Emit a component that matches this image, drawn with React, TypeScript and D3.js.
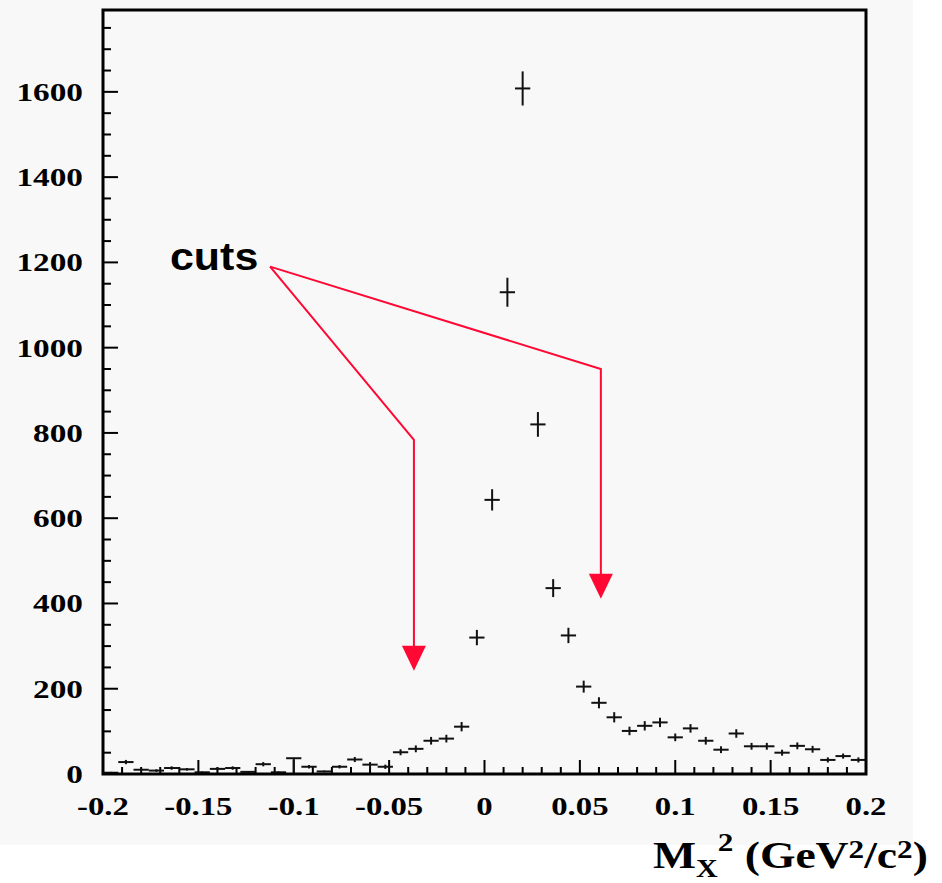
import React from "react";
import * as d3 from "d3";

// ---- Data ----
const binStart = -0.2;
const binWidth = 0.008;
const counts = [
  3, 28, 10, 8, 14, 11, 4, 12, 14, 5,
  23, 4, 37, 17, 6, 17, 34, 22, 17, 51,
  59, 78, 83, 111, 320, 643, 1130, 1608, 820, 436,
  325, 205, 167, 133, 101, 113, 121, 86, 107, 78,
  57, 95, 65, 65, 50, 66, 58, 33, 42, 33,
];
const errLow = [
  2, 5, 3, 3, 4, 3, 2, 3, 4, 2,
  5, 2, 37, 4, 2, 4, 6, 10, 5, 7,
  8, 9, 9, 11, 18, 25, 34, 40, 29, 21,
  18, 14, 13, 12, 10, 11, 11, 9, 10, 9,
  8, 10, 8, 8, 7, 8, 8, 6, 6, 6,
];
const errHigh = [
  2, 5, 3, 3, 4, 3, 2, 3, 4, 2,
  5, 2, 1, 4, 2, 4, 6, 6, 5, 7,
  8, 9, 9, 11, 18, 25, 34, 40, 29, 21,
  18, 14, 13, 12, 10, 11, 11, 9, 10, 9,
  8, 10, 8, 8, 7, 8, 8, 6, 6, 6,
];
const xTickValues = [-0.2, -0.15, -0.1, -0.05, 0, 0.05, 0.1, 0.15, 0.2];
const xTickLabels = ["-0.2", "-0.15", "-0.1", "-0.05", "0", "0.05", "0.1", "0.15", "0.2"];
const yTickValues = [0, 200, 400, 600, 800, 1000, 1200, 1400, 1600];
const yTickLabels = ["0", "200", "400", "600", "800", "1000", "1200", "1400", "1600"];
const xDomain = [-0.2, 0.2];
const yDomain = [0, 1792];
// annotation: "cuts" with arrows
const cutsLabel = "cuts";
const cutsOrigin = [-0.1124, 1190];
const cutX = [-0.037, 0.061];
const cutBendY = [784, 950];
const cutTipY = [242, 411];

// ---- Layout ----
const W = 942;
const H = 883;
const left = 103;
const right = 866;
const top = 10;
const bottom = 774;
const serif = "'Liberation Serif', 'Times New Roman', serif";
const sans = "'Liberation Sans', Arial, sans-serif";
const red = "#ff0833";

export default function App() {
  const x = d3.scaleLinear().domain(xDomain).range([left, right]);
  const y = d3.scaleLinear().domain(yDomain).range([bottom, top]);

  const xMinor = d3.range(-0.2, 0.2001, 0.01).map((v) => Math.round(v * 100) / 100);
  const yMinor = d3.range(0, 1792, 50);

  const ox = x(cutsOrigin[0]);
  const oy = y(cutsOrigin[1]);

  return (
    <svg
      width={W}
      height={H}
      style={{ position: "absolute", left: 0, top: 0, background: "#ffffff" }}
    >
      <rect x={0} y={0} width={913} height={845} fill="#f8f8f8" />

      {/* minor / major ticks on y axis */}
      {yMinor.map((v) => {
        const major = v % 200 === 0;
        return (
          <line
            key={"ym" + v}
            x1={left}
            x2={left + (major ? 15 : 8)}
            y1={y(v)}
            y2={y(v)}
            stroke="#000"
            strokeWidth={2}
          />
        );
      })}
      {/* ticks on x axis */}
      {xMinor.map((v) => {
        const major = Math.abs(Math.round(v * 100) % 5) === 0;
        return (
          <line
            key={"xm" + v}
            x1={x(v)}
            x2={x(v)}
            y1={bottom}
            y2={bottom - (major ? 14 : 7)}
            stroke="#000"
            strokeWidth={2}
          />
        );
      })}

      {/* data: histogram with error bars */}
      {counts.map((c, i) => {
        const lo = binStart + i * binWidth;
        const hi = lo + binWidth;
        const cx = x(lo + binWidth / 2);
        return (
          <g key={"b" + i} stroke="#111" strokeWidth={2}>
            <line x1={x(lo)} x2={x(hi)} y1={y(c)} y2={y(c)} />
            <line
              x1={cx}
              x2={cx}
              y1={y(Math.max(0, c - errLow[i]))}
              y2={y(c + errHigh[i])}
            />
          </g>
        );
      })}

      {/* frame */}
      <rect
        x={left}
        y={top}
        width={right - left}
        height={bottom - top}
        fill="none"
        stroke="#000"
        strokeWidth={3}
      />

      {/* y tick labels */}
      {yTickValues.map((v, i) => (
        <text
          key={"yl" + v}
          transform={`translate(83,${y(v) + 9}) scale(1.28,1)`}
          textAnchor="end"
          fontFamily={serif}
          fontWeight="bold"
          fontSize={26}
          fill="#000"
        >
          {yTickLabels[i]}
        </text>
      ))}
      {/* x tick labels */}
      {xTickValues.map((v, i) => (
        <text
          key={"xl" + v}
          transform={`translate(${x(v)},815) scale(1.26,1)`}
          textAnchor="middle"
          fontFamily={serif}
          fontWeight="bold"
          fontSize={26}
          fill="#000"
        >
          {xTickLabels[i]}
        </text>
      ))}

      {/* axis title */}
      <text
        transform="translate(653,868) scale(1.2,1)"
        fontFamily={serif}
        fontWeight="bold"
        fontSize={38}
        fill="#000"
      >
        <tspan>M</tspan>
        <tspan fontSize={25} dy={9}>X</tspan>
        <tspan fontSize={26} dy={-26}>2</tspan>
        <tspan dy={17}> (GeV</tspan>
        <tspan fontSize={26} dy={-10}>2</tspan>
        <tspan dy={10}>/c</tspan>
        <tspan fontSize={26} dy={-10}>2</tspan>
        <tspan dy={10}>)</tspan>
      </text>

      {/* cuts annotation */}
      <text
        transform="translate(170,270) scale(1.13,1)"
        fontFamily={sans}
        fontWeight="bold"
        fontSize={38}
        fill="#000"
      >
        {cutsLabel}
      </text>
      {cutX.map((cx, i) => {
        const px = x(cx);
        const by = y(cutBendY[i]);
        const ty = y(cutTipY[i]);
        return (
          <g key={"cut" + i}>
            <polyline
              points={`${ox},${oy} ${px},${by} ${px},${ty - 24}`}
              fill="none"
              stroke={red}
              strokeWidth={2}
            />
            <polygon
              points={`${px - 12},${ty - 25} ${px + 12},${ty - 25} ${px},${ty}`}
              fill={red}
            />
          </g>
        );
      })}
    </svg>
  );
}
